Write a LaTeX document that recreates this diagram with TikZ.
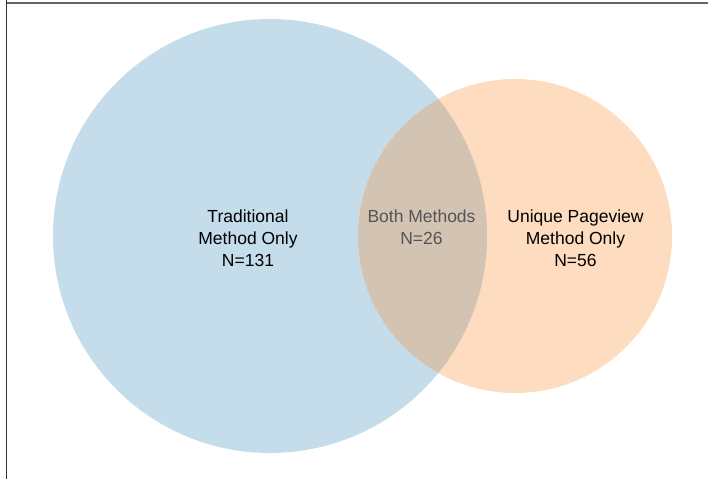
\documentclass[tikz,border=0pt]{standalone}
\usepackage{fontspec}
\setmainfont{Liberation Sans}
\definecolor{bluec}{HTML}{C5DCEB}
\definecolor{orangec}{HTML}{FDDCC0}
\definecolor{bothc}{HTML}{D3C3B3}
\definecolor{framec}{HTML}{666666}
\definecolor{framel}{HTML}{333333}
\definecolor{graytext}{HTML}{555555}
\begin{document}
\begin{tikzpicture}[x=1pt,y=-1pt,
  lbl/.style={align=center,font=\fontsize{17.5}{22}\selectfont,text=black,inner sep=0pt}]
\useasboundingbox (0,0) rectangle (708,479);
\fill[bluec] (270,236) circle (217);
\fill[orangec] (515,236) circle (157);
\begin{scope}
  \clip (270,236) circle (217);
  \fill[bothc] (515,236) circle (157);
\end{scope}
\draw[framec,line width=2pt] (6,3) -- (708,3);
\draw[framel,line width=1.5pt] (6.3,0) -- (6.3,479);
\node[lbl] (trad) at (248,238) {Traditional\\Method Only\\N=131};
\node[lbl,text=graytext] (both) at (421.5,227) {Both Methods\\N=26};
\node[lbl] (uniq) at (575.5,238) {Unique Pageview\\Method Only\\N=56};
\end{tikzpicture}
\end{document}
